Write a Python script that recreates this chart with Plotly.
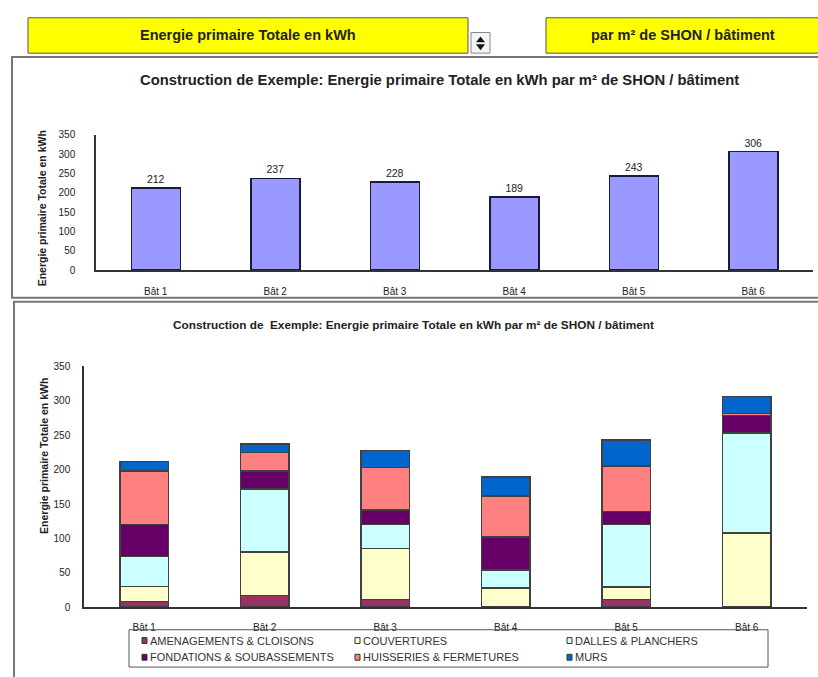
import plotly.graph_objects as go

W, H = 818, 677

# ---- data -------------------------------------------------------------
batiments = ["Bât 1", "Bât 2", "Bât 3", "Bât 4", "Bât 5", "Bât 6"]
totaux = [212, 237, 228, 189, 243, 306]

postes = [
    "AMENAGEMENTS & CLOISONS",
    "COUVERTURES",
    "DALLES & PLANCHERS",
    "FONDATIONS & SOUBASSEMENTS",
    "HUISSERIES & FERMETURES",
    "MURS",
]
amenagements = [8, 17, 11, 0, 11, 0]
couvertures = [22, 63, 74, 28, 18, 108]
dalles = [44, 92, 35, 26, 91, 145]
fondations = [46, 26, 21, 48, 19, 26]
huisseries = [78, 27, 62, 60, 66, 3]
murs = [14, 12, 25, 27, 38, 24]
series = [amenagements, couvertures, dalles, fondations, huisseries, murs]
couleurs = ["#993366", "#FFFFCC", "#CCFFFF", "#660066", "#FF8080", "#0066CC"]

y_ticks = [0, 50, 100, 150, 200, 250, 300, 350]

titre_haut = "Construction de Exemple: Energie primaire Totale en kWh par m² de SHON / bâtiment"
titre_bas = "Construction de  Exemple: Energie primaire Totale en kWh par m² de SHON / bâtiment"
titre_axe = "Energie primaire Totale en kWh"
bouton_gauche = "Energie primaire Totale en kWh"
bouton_droit = "par m² de SHON / bâtiment"

FONT = "Liberation Sans, Arial, sans-serif"
INK = "#222222"


def px(x):
    return x / W


def py(y):
    return 1 - y / H


def label(x, y, text, size, **kw):
    d = dict(xref="paper", yref="paper", x=px(x), y=py(y), text=text,
             showarrow=False, xanchor="center", yanchor="middle",
             font=dict(size=size, color=INK, family=FONT))
    d.update(kw)
    return d


fig = go.Figure()

# top chart: totals per building
fig.add_trace(go.Bar(
    x=batiments, y=totaux, xaxis="x", yaxis="y",
    marker=dict(color="#9999FF", line=dict(color="#1a1a3a", width=1.5)),
    width=0.41,
    text=[str(v) for v in totaux], textposition="outside",
    textfont=dict(size=10.5, color=INK, family=FONT),
    cliponaxis=False, showlegend=False, hoverinfo="x+y",
))

# bottom chart: stacked breakdown per building
for nom, vals, col in zip(postes, series, couleurs):
    fig.add_trace(go.Bar(
        x=batiments, y=vals, name=nom, xaxis="x2", yaxis="y2",
        marker=dict(color=col, line=dict(color="#404040", width=1.5)),
        width=0.40, showlegend=False,
    ))

axis_common = dict(
    showgrid=False, zeroline=False, showline=True, linecolor="#333333",
    linewidth=1.5, fixedrange=True, ticks="",
)
tick_font = dict(size=10, color=INK, family=FONT)

fig.update_layout(
    width=W, height=H,
    margin=dict(l=0, r=0, t=0, b=0),
    paper_bgcolor="white", plot_bgcolor="white",
    barmode="stack",
    font=dict(family=FONT, color=INK),
    xaxis=dict(domain=[px(96), px(813)], anchor="y", ticklabelstandoff=11,
               tickfont=dict(size=10, color=INK, family=FONT), **axis_common),
    yaxis=dict(domain=[py(269), py(131)], anchor="x", range=[0, 350],
               tickvals=y_ticks, ticklabelstandoff=17, tickfont=tick_font, **axis_common),
    xaxis2=dict(domain=[px(84), px(807)], anchor="y2", ticklabelstandoff=10,
                tickfont=dict(size=10, color=INK, family=FONT), **axis_common),
    yaxis2=dict(domain=[py(612), py(367)], anchor="x2", range=[0, 350],
                tickvals=y_ticks, ticklabelstandoff=10, tickfont=tick_font, **axis_common),
)

shapes = []
annotations = []

# header buttons
for x0, x1, txt in [(28, 468, bouton_gauche), (546, 830, bouton_droit)]:
    shapes.append(dict(type="rect", xref="paper", yref="paper",
                       x0=px(x0), x1=px(x1), y0=py(48), y1=py(12),
                       fillcolor="#FFFF00", line=dict(color="#555555", width=1)))
    cx = 248 if x0 == 28 else 683
    annotations.append(label(cx, 30, "<b>%s</b>" % txt, 14.5))

# spinner control next to the left button
shapes.append(dict(type="rect", xref="paper", yref="paper",
                   x0=px(471), x1=px(490), y0=py(48), y1=py(27),
                   fillcolor="#F4F4F4", line=dict(color="#888888", width=1)))
shapes.append(dict(type="path", xref="paper", yref="paper",
                   path="M %f %f L %f %f L %f %f Z" % (px(476), py(37), px(485), py(37), px(480.5), py(31)),
                   fillcolor="#111111", line=dict(width=0)))
shapes.append(dict(type="path", xref="paper", yref="paper",
                   path="M %f %f L %f %f L %f %f Z" % (px(476), py(39), px(485), py(39), px(480.5), py(45)),
                   fillcolor="#111111", line=dict(width=0)))

# chart frames
shapes.append(dict(type="rect", xref="paper", yref="paper",
                   x0=px(12), x1=px(840), y0=py(297), y1=py(52),
                   fillcolor="rgba(0,0,0,0)", line=dict(color="#777777", width=2), layer="below"))
shapes.append(dict(type="rect", xref="paper", yref="paper",
                   x0=px(14), x1=px(840), y0=py(700), y1=py(301),
                   fillcolor="rgba(0,0,0,0)", line=dict(color="#777777", width=2), layer="below"))

# chart titles
annotations.append(label(439, 75, "<b>%s</b>" % titre_haut, 14.8))
annotations.append(label(414, 325, "<b>%s</b>" % titre_bas, 11.8))

# y-axis titles
annotations.append(label(42, 206, "<b>%s</b>" % titre_axe, 10.5, textangle=-90))
annotations.append(label(44, 458, "<b>%s</b>" % titre_axe, 10.5, textangle=-90))

# legend box under the stacked chart
shapes.append(dict(type="rect", xref="paper", yref="paper",
                   x0=px(129), x1=px(768), y0=py(673), y1=py(635),
                   fillcolor="rgba(0,0,0,0)", line=dict(color="#555555", width=1)))
col_x = [142, 355, 567]
row_y = [646, 663]
for i, (nom, col) in enumerate(zip(postes, couleurs)):
    cx = col_x[i % 3]
    cy = row_y[i // 3]
    shapes.append(dict(type="rect", xref="paper", yref="paper",
                       x0=px(cx), x1=px(cx + 5), y0=py(cy + 3), y1=py(cy - 3),
                       fillcolor=col, line=dict(color="#333333", width=1)))
    annotations.append(label(cx + 6, cy, nom, 11, xanchor="left",
                             font=dict(size=11, color="#333333", family=FONT)))

fig.update_layout(shapes=shapes, annotations=annotations)

fig.write_html("out.html")
